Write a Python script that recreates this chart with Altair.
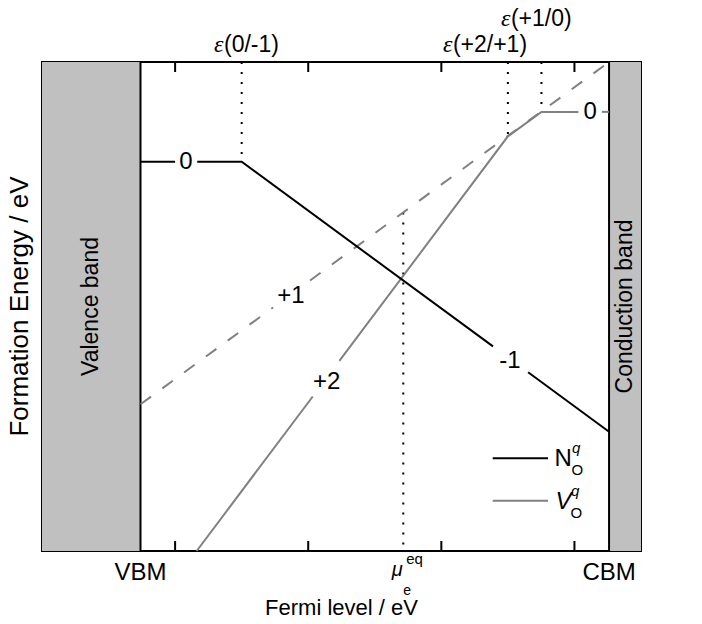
import altair as alt
import pandas as pd

# ---------------- data ----------------
X_DOMAIN = [0.0, 2.25]
Y_DOMAIN = [0.0, 2.5]
VBM = 0.37
CBM = 2.13
MU_EQ = 1.357
tick_x = [0.5, 1.0, 1.5, 2.0]

# N_O^q (black): charge 0 then -1, split where charge labels sit
n_seg = [0, 0, 1, 1, 1, 2, 2]
n_x = [0.37, 0.50, 0.583, 0.75, 1.694, 1.826, 2.13]
n_y = [1.99, 1.99, 1.99, 1.99, 1.046, 0.914, 0.61]

# V_O^q (gray, solid): +2, +1, 0
v_seg = [0, 0, 1, 1, 1, 1, 2, 2]
v_x = [0.581, 1.017, 1.117, 1.75, 1.876, 2.015, 2.103, 2.13]
v_y = [0.0, 0.790, 0.972, 2.12, 2.245, 2.245, 2.245, 2.245]

# V_O^+1 extension (gray, dashed)
d_seg = [0, 0, 1, 1]
d_x = [0.37, 0.868, 1.007, 2.13]
d_y = [0.75, 1.245, 1.383, 2.50]

# dotted guide lines at transition levels and mu_e^eq
lvl_x = [0.75, 1.75, 1.876, 1.357]
lvl_y0 = [1.99, 2.12, 2.245, 0.0]
lvl_y1 = [2.5, 2.5, 2.5, 1.73]

charge_text = ["0", "-1", "+1", "+2", "0"]
charge_x = [0.541, 1.758, 0.935, 1.069, 2.059]
charge_y = [1.99, 0.97, 1.304, 0.866, 2.245]

level_names = ["(0/-1)", "(+2/+1)", "(+1/0)"]
level_pos = [0.75, 1.75, 1.876]

bands = ["Valence band", "Conduction band"]

# ---------------- chart ----------------
W, H = 599, 489
FONT = "Liberation Sans"
GRAY = "#808080"
xs = alt.Scale(domain=X_DOMAIN, nice=False, zero=False)
ys = alt.Scale(domain=Y_DOMAIN, nice=False, zero=False)


def X(f):
    return alt.X(f, type="quantitative", scale=xs, axis=None)


def Y(f):
    return alt.Y(f, type="quantitative", scale=ys, axis=None)


layers = []

band_df = pd.DataFrame({"x0": [X_DOMAIN[0], CBM], "x1": [VBM, X_DOMAIN[1]],
                        "name": bands, "xc": [(X_DOMAIN[0] + VBM) / 2, (CBM + X_DOMAIN[1]) / 2]})
layers.append(alt.Chart(band_df).mark_rect(color="#c0c0c0").encode(
    x=X("x0"), x2="x1", y=alt.value(0), y2=alt.value(H)))
layers.append(alt.Chart(pd.DataFrame({"x": [VBM, CBM]})).mark_rule(
    color="black", strokeWidth=2).encode(x=X("x"), y=alt.value(0), y2=alt.value(H)))
layers.append(alt.Chart(band_df).mark_text(
    font=FONT, fontSize=23, angle=270, align="center", baseline="middle", color="black").encode(
    x=X("xc"), y=alt.value(H / 2), text="name:N"))

# ticks (inward, top and bottom)
tdf = pd.DataFrame({"x": tick_x})
layers.append(alt.Chart(tdf).mark_rule(color="black", strokeWidth=2).encode(
    x=X("x"), y=alt.value(H), y2=alt.value(H - 10)))
layers.append(alt.Chart(tdf).mark_rule(color="black", strokeWidth=2).encode(
    x=X("x"), y=alt.value(0), y2=alt.value(10)))

# dotted guides
lvl_df = pd.DataFrame({"x": lvl_x, "y0": lvl_y1, "y1": lvl_y0})
layers.append(alt.Chart(lvl_df).mark_rule(color="black", strokeWidth=2, strokeDash=[2, 8]).encode(
    x=X("x"), y=Y("y0"), y2="y1"))

# dashed +1 extension
layers.append(alt.Chart(pd.DataFrame({"s": d_seg, "x": d_x, "y": d_y})).mark_line(
    color=GRAY, strokeWidth=2, strokeDash=[13, 14]).encode(x=X("x"), y=Y("y"), detail="s:N"))
# V_O solid
layers.append(alt.Chart(pd.DataFrame({"s": v_seg, "x": v_x, "y": v_y})).mark_line(
    color=GRAY, strokeWidth=2).encode(x=X("x"), y=Y("y"), detail="s:N"))
# N_O
layers.append(alt.Chart(pd.DataFrame({"s": n_seg, "x": n_x, "y": n_y})).mark_line(
    color="black", strokeWidth=2).encode(x=X("x"), y=Y("y"), detail="s:N"))

# charge labels
layers.append(alt.Chart(pd.DataFrame({"t": charge_text, "x": charge_x, "y": charge_y})).mark_text(
    font=FONT, fontSize=24, align="center", baseline="middle", color="black").encode(
    x=X("x"), y=Y("y"), text="t:N"))

# transition level labels above the frame
dxs = [-17.7, -55, -30.5]
rows = [-10, -10, -36]
for name, pos, dx, ry in zip(level_names, level_pos, dxs, rows):
    d = pd.DataFrame({"t": [name], "x": [pos]})
    layers.append(alt.Chart(d).mark_text(font=FONT, fontSize=23, align="left", baseline="alphabetic",
                                         dx=dx, color="black").encode(x=X("x"), y=alt.value(ry), text="t:N"))
    layers.append(alt.Chart(d).mark_text(text="ε", font="Liberation Serif", fontStyle="italic", fontSize=24,
                                         align="right", baseline="alphabetic", dx=dx - 0.5,
                                         color="black").encode(x=X("x"), y=alt.value(ry)))

# bottom labels
bl = pd.DataFrame({"t": ["VBM", "CBM"], "x": [VBM, CBM]})
layers.append(alt.Chart(bl).mark_text(font=FONT, fontSize=24, align="center", baseline="alphabetic",
                                      color="black").encode(x=X("x"), y=alt.value(518), text="t:N"))
mu = pd.DataFrame({"x": [MU_EQ]})
layers.append(alt.Chart(mu).mark_text(text="μ", font=FONT, fontStyle="italic", fontSize=20, align="right",
                                      baseline="alphabetic", dx=-0.5, color="black").encode(
    x=X("x"), y=alt.value(514)))
layers.append(alt.Chart(mu).mark_text(text="e", font=FONT, fontSize=14, align="left",
                                      baseline="alphabetic", dx=0, color="black").encode(
    x=X("x"), y=alt.value(533)))
layers.append(alt.Chart(mu).mark_text(text="eq", font=FONT, fontSize=15, align="left",
                                      baseline="alphabetic", dx=3, color="black").encode(
    x=X("x"), y=alt.value(502)))

# axis titles
layers.append(alt.Chart(pd.DataFrame({"t": ["Fermi level / eV"]})).mark_text(
    font=FONT, fontSize=22, align="center", baseline="alphabetic", color="black").encode(
    x=alt.value(W / 2), y=alt.value(553), text="t:N"))
layers.append(alt.Chart(pd.DataFrame({"t": ["Formation Energy / eV"]})).mark_text(
    font=FONT, fontSize=26, angle=270, align="center", baseline="alphabetic", color="black").encode(
    x=alt.value(-14), y=alt.value(H / 2), text="t:N"))

# legend
leg = pd.DataFrame({"c": ["black", GRAY], "y": [396.3, 438.7]})
layers.append(alt.Chart(leg).mark_rule(strokeWidth=2).encode(
    x=alt.value(450.7), x2=alt.value(506), y=alt.Y("y:Q", scale=None, axis=None),
    color=alt.Color("c:N", scale=None, legend=None)))
one = pd.DataFrame({"k": [0]})


def txt(s, x, y, size=24, style="normal"):
    return alt.Chart(one).mark_text(text=s, font=FONT, fontSize=size, fontStyle=style, align="left",
                                    baseline="alphabetic", color="black").encode(
        x=alt.value(x), y=alt.value(y))


layers += [txt("N", 512.5, 404), txt("O", 529.5, 413, 15), txt("q", 530, 391, 15, "italic"),
           txt("V", 513.5, 447, 24, "italic"), txt("O", 528.5, 456, 15), txt("q", 529, 434, 15, "italic")]

chart = alt.layer(*layers).properties(
    width=W, height=H,
    autosize=alt.AutoSizeParams(type="none"),
    padding={"left": 34, "top": 54, "right": 40, "bottom": 64},
).configure_view(stroke="black", strokeWidth=2)

chart.save("out.html", embed_options={"renderer": "svg", "actions": False})
